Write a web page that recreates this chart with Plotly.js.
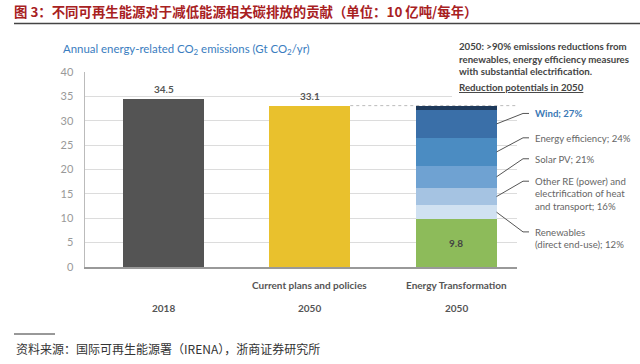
<!DOCTYPE html>
<html><head><meta charset="utf-8">
<script src="https://cdn.plot.ly/plotly-3.0.1.min.js"></script>
<style>html,body{margin:0;padding:0;background:#fff}#chart{width:640px;height:364px}</style>
</head><body><div id="chart"></div><script>
// ---- data ----
const categories = ["2018", "Current plans and policies", "Energy Transformation"];
const scenarioLabels = ["", "Current plans and policies", "Energy Transformation"];
const yearLabels = ["2018", "2050", "2050"];
const baseValues = [34.5, 33.1, 9.8];
const baseLabels = ["34.5", "33.1", "9.8"];
const baseColors = ["#545454", "#e9c12d", "#8dbb5a"];
const reductionNames = [
  "Renewables<br>(direct end-use); 12%",
  "Other RE (power) and<br>electrification of heat<br>and transport; 16%",
  "Solar PV; 21%",
  "Energy efficiency; 24%",
  "Wind; 27%"
];
const reductionValues = [2.9, 3.5, 4.6, 5.6, 5.9];
const reductionColors = ["#d0e1f1", "#a5c3e2", "#6fa2d2", "#4b8cc2", "#3a6fa8"];
const capValue = 0.8;
const capColor = "#1e3a5c";
const yTicks = [0, 5, 10, 15, 20, 25, 30, 35, 40];
// label anchor heights (layout positions, value units)
const labelY = [7.2, 17.6, 22.2, 26.5, 31.5];

// ---- layout helpers ----
const xr = [-0.537, 2.417];
const barW = 0.554;
const yMax = 40;
const px = v => (v - xr[0]) / (xr[1] - xr[0]);

const traces = [];
traces.push({type: "bar", x: categories, y: baseValues, marker: {color: baseColors}, hoverinfo: "none"});
reductionValues.forEach((v, i) => {
  traces.push({type: "bar", x: [categories[2]], y: [v], marker: {color: reductionColors[i]}, hoverinfo: "none"});
});
traces.push({type: "bar", x: [categories[2]], y: [capValue], marker: {color: capColor}, hoverinfo: "none"});

const ann = [];
const shapes = [];
const lato = "Lato, 'Open Sans', sans-serif";

// value labels (category index used for x)
baseValues.forEach((v, i) => {
  if (i < 2) {
    ann.push({x: i, y: v, xref: "x", yref: "y", text: "<b>" + baseLabels[i] + "</b>", showarrow: false,
      yanchor: "bottom", yshift: 2, font: {family: lato, size: 10, color: "#555"}});
  } else {
    ann.push({x: i, y: v / 2, xref: "x", yref: "y", text: "<b>" + baseLabels[i] + "</b>", showarrow: false,
      yanchor: "middle", font: {family: lato, size: 10, color: "#444"}});
  }
});
// x labels
categories.forEach((c, i) => {
  if (scenarioLabels[i]) ann.push({x: i, xref: "x", y: -0.0923, yref: "paper", text: "<b>" + scenarioLabels[i] + "</b>",
    showarrow: false, yanchor: "middle", font: {family: lato, size: 10, color: "#555"}});
  ann.push({x: i, xref: "x", y: -0.210, yref: "paper", text: "<b>" + yearLabels[i] + "</b>",
    showarrow: false, yanchor: "middle", font: {family: lato, size: 10, color: "#555"}});
});

// white mask over top grid at right
shapes.push({type: "rect", xref: "paper", yref: "paper", x0: 0.8495, x1: 1.3, y0: 0.8615, y1: 1.06,
  fillcolor: "#fff", line: {width: 0}, layer: "above"});
// dashed reference line at current plans level
shapes.push({type: "line", xref: "x", yref: "y", x0: 1 + barW / 2, x1: xr[1], y0: baseValues[1], y1: baseValues[1],
  line: {color: "#bbb", width: 1, dash: "dot"}, layer: "below"});

// connectors & labels
const barRight = px(2 + barW / 2);
const elbowX = (523 - 85) / 432, endX = (529 - 85) / 432, labelX = (533 - 85) / 432;
let cum = baseValues[2];
reductionValues.forEach((v, i) => {
  const mid = cum + v / 2;
  cum += v;
  const y0 = mid / yMax, y1 = labelY[i] / yMax;
  shapes.push({type: "path", xref: "paper", yref: "paper",
    path: `M ${barRight} ${y0} L ${elbowX} ${y1} L ${endX} ${y1}`,
    line: {color: "#555", width: 1}, layer: "above"});
  const isWind = i === reductionValues.length - 1;
  ann.push({x: labelX, y: y1, xref: "paper", yref: "paper", xanchor: "left", yanchor: "top", yshift: 7,
    align: "left", showarrow: false,
    text: isWind ? "<b>" + reductionNames[i] + "</b>" : reductionNames[i],
    font: {family: lato, size: 9.6, color: isWind ? "#3a78b5" : "#666"}});
});

// top right note
ann.push({x: (457 - 85) / 432, y: (267 - 38.5) / 195, xref: "paper", yref: "paper", xanchor: "left", yanchor: "top",
  align: "left", showarrow: false,
  text: "<b>2050: >90% emissions reductions from<br>renewables, energy efficiency measures<br>with substantial electrification.</b>",
  font: {family: lato, size: 9.7, color: "#444"}});
ann.push({x: (457 - 85) / 432, y: (267 - 87.3) / 195, xref: "paper", yref: "paper", xanchor: "left", yanchor: "middle",
  align: "left", showarrow: false, text: "<b><u>Reduction potentials in 2050</u></b>",
  font: {family: lato, size: 9.7, color: "#444"}});
// subtitle
ann.push({x: (61 - 85) / 432, y: (267 - 50) / 195, xref: "paper", yref: "paper", xanchor: "left", yanchor: "middle",
  showarrow: false, text: "Annual energy-related CO<sub>2</sub> emissions (Gt CO<sub>2</sub>/yr)",
  font: {family: lato, size: 11.4, color: "#3a7dc0"}});
// footer
ann.push({x: (14 - 85) / 432, y: (267 - 348) / 195, xref: "paper", yref: "paper", xanchor: "left", yanchor: "middle",
  showarrow: false, text: "资料来源：国际可再生能源署（IRENA），浙商证券研究所",
  font: {family: "'Noto Sans CJK SC', sans-serif", size: 12, color: "#333"}});
shapes.push({type: "line", xref: "paper", yref: "paper", x0: (14 - 85) / 432, x1: (55 - 85) / 432,
  y0: (267 - 334) / 195, y1: (267 - 334) / 195, line: {color: "#333", width: 1}});
// title underline
shapes.push({type: "line", xref: "paper", yref: "paper", x0: (14 - 85) / 432, x1: (640 - 85) / 432,
  y0: (267 - 23.5) / 195, y1: (267 - 23.5) / 195, line: {color: "#444", width: 1.5}});

const layout = {
  width: 640, height: 364,
  margin: {l: 85, r: 123, t: 72, b: 97, pad: 0},
  paper_bgcolor: "#fff", plot_bgcolor: "#fff",
  showlegend: false,
  barmode: "stack",
  bargap: 1 - barW,
  title: {text: "<b>图 3：不同可再生能源对于减低能源相关碳排放的贡献（单位：10 亿吨/每年）</b>",
    xref: "container", yref: "container", x: 14 / 640, xanchor: "left", y: 1 - 12 / 364, yanchor: "middle",
    font: {family: "'Noto Sans CJK SC', sans-serif", size: 13.4, color: "#a8211f"}},
  xaxis: {type: "category", range: xr, showticklabels: false, ticks: "", showgrid: false, zeroline: false,
    showline: true, linecolor: "#999", linewidth: 1.5, fixedrange: true},
  yaxis: {range: [0, yMax], tickvals: yTicks, ticks: "", showgrid: true, gridcolor: "#dcdcdc", gridwidth: 1,
    zeroline: false, showline: true, linecolor: "#bbb", linewidth: 1.5, ticklabelstandoff: 8,
    tickfont: {family: lato, size: 11, color: "#999"}, fixedrange: true},
  annotations: ann,
  shapes: shapes
};
Plotly.newPlot("chart", traces, layout, {displayModeBar: false, staticPlot: true});
</script></body></html>
